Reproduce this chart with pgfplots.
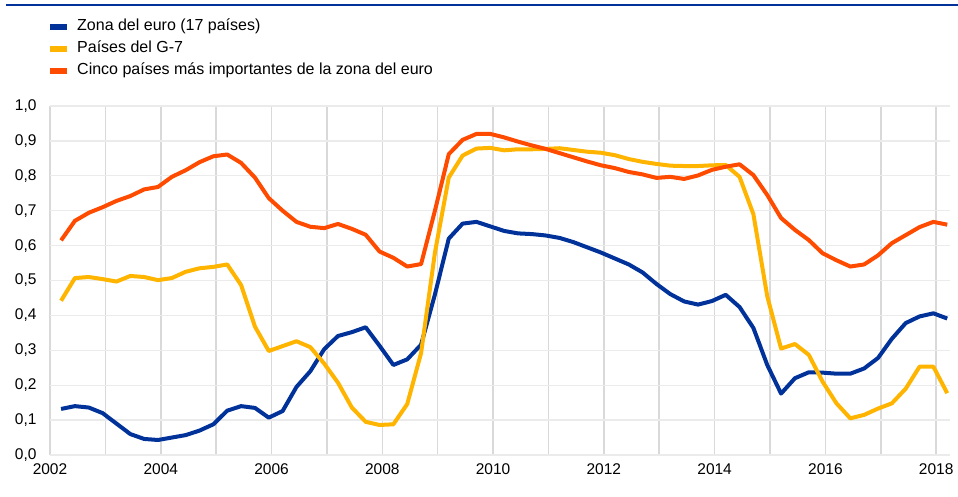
\documentclass[border=0pt]{standalone}
\usepackage{fontspec}
\setmainfont{Liberation Sans}
\usepackage{pgfplots}
\usepackage{pgfplotstable}
\pgfplotsset{compat=1.18}
\definecolor{ecbblue}{HTML}{003299}
\definecolor{ecbyellow}{HTML}{FFB400}
\definecolor{ecbred}{HTML}{FF4B00}
\definecolor{gridv}{HTML}{D9D9D9}
\definecolor{gridh}{HTML}{EBEBEB}
\definecolor{axisc}{HTML}{D0D0D0}

\pgfplotstableread{
x b g r
2002.20 0.132 0.442 0.615
2002.45 0.140 0.507 0.671
2002.70 0.136 0.510 0.694
2002.95 0.120 0.504 0.710
2003.20 0.090 0.497 0.728
2003.45 0.060 0.513 0.742
2003.70 0.046 0.510 0.761
2003.95 0.043 0.501 0.768
2004.20 0.050 0.507 0.797
2004.45 0.057 0.525 0.816
2004.70 0.070 0.535 0.839
2004.95 0.088 0.539 0.856
2005.20 0.127 0.546 0.861
2005.45 0.140 0.487 0.837
2005.70 0.135 0.368 0.795
2005.95 0.107 0.298 0.736
2006.20 0.126 0.312 0.700
2006.45 0.195 0.326 0.668
2006.70 0.240 0.309 0.654
2006.95 0.303 0.262 0.650
2007.20 0.341 0.207 0.662
2007.45 0.352 0.136 0.648
2007.70 0.366 0.095 0.631
2007.95 0.313 0.086 0.583
2008.20 0.258 0.088 0.565
2008.45 0.274 0.146 0.540
2008.70 0.316 0.292 0.547
2008.95 0.460 0.580 0.700
2009.20 0.620 0.795 0.862
2009.45 0.663 0.858 0.903
2009.70 0.668 0.878 0.920
2009.95 0.655 0.880 0.920
2010.20 0.642 0.873 0.910
2010.45 0.635 0.876 0.898
2010.70 0.633 0.876 0.887
2010.95 0.629 0.877 0.877
2011.20 0.622 0.879 0.865
2011.45 0.610 0.874 0.853
2011.70 0.595 0.869 0.841
2011.95 0.580 0.866 0.830
2012.20 0.563 0.859 0.822
2012.45 0.546 0.848 0.811
2012.70 0.523 0.840 0.804
2012.95 0.490 0.834 0.794
2013.20 0.461 0.829 0.797
2013.45 0.440 0.828 0.791
2013.70 0.431 0.828 0.801
2013.95 0.441 0.830 0.817
2014.20 0.459 0.831 0.826
2014.45 0.424 0.797 0.833
2014.70 0.364 0.690 0.802
2014.95 0.258 0.455 0.745
2015.20 0.176 0.305 0.679
2015.45 0.220 0.318 0.645
2015.70 0.237 0.287 0.616
2015.95 0.236 0.210 0.578
2016.20 0.233 0.148 0.558
2016.45 0.233 0.105 0.540
2016.70 0.248 0.115 0.546
2016.95 0.278 0.133 0.572
2017.20 0.333 0.148 0.607
2017.45 0.378 0.190 0.630
2017.70 0.397 0.253 0.653
2017.95 0.406 0.253 0.668
2018.20 0.391 0.177 0.660
}\datatable

\begin{document}
\begin{tikzpicture}
\useasboundingbox (0,0) rectangle (958pt,496pt);
\draw[ecbblue, line width=2pt] (6pt,491pt) -- (958pt,491pt);
\begin{axis}[
  at={(50pt,41pt)}, anchor=south west,
  scale only axis, width=900pt, height=349pt,
  xmin=2002, xmax=2018.25, ymin=0, ymax=1,
  xtick={2002,2004,2006,2008,2010,2012,2014,2016,2018},
  minor xtick={2003,2005,2007,2009,2011,2013,2015,2017},
  ytick={0,0.1,0.2,0.3,0.4,0.5,0.6,0.7,0.8,0.9,1.0},
  xmajorgrids, xminorgrids, ymajorgrids,
  x grid style={gridv, line width=1.6pt},
  minor grid style={gridv, line width=1.6pt},
  y grid style={gridh, line width=1.3pt},
  extra y ticks={0}, extra y tick labels={},
  extra y tick style={grid style={axisc, line width=2.2pt}},
  axis line style={draw=none},
  major tick length=0pt, minor tick length=0pt,
  tick style={draw=none},
  /pgf/number format/assume math mode=true,
  xticklabel style={font=\fontsize{15.5}{18}\selectfont, yshift=-5pt, /pgf/number format/1000 sep={}},
  yticklabel style={font=\fontsize{15.5}{18}\selectfont, xshift=-10pt, /pgf/number format/.cd, use comma, fixed, fixed zerofill, precision=1},
  legend style={at={(axis description cs:0,1.252)}, anchor=north west, draw=none, fill=none,
    font=\fontsize{16}{19}\selectfont, inner sep=0pt, row sep=5pt,
    nodes={inner sep=1pt, text height=11pt, text depth=4pt}},
  legend cell align=left,
  legend image code/.code={\fill[draw=none] (0pt,-3pt) rectangle (17pt,3pt); \path (24pt,0pt);},
  every axis plot/.append style={line width=4pt, line join=round},
]
\addplot[color=ecbblue] table[x=x, y=b] {\datatable};
\addlegendentry{Zona del euro (17 países)}
\addplot[color=ecbyellow] table[x=x, y=g] {\datatable};
\addlegendentry{Países del G-7}
\addplot[color=ecbred] table[x=x, y=r] {\datatable};
\addlegendentry{Cinco países más importantes de la zona del euro}
\end{axis}
\end{tikzpicture}
\end{document}
